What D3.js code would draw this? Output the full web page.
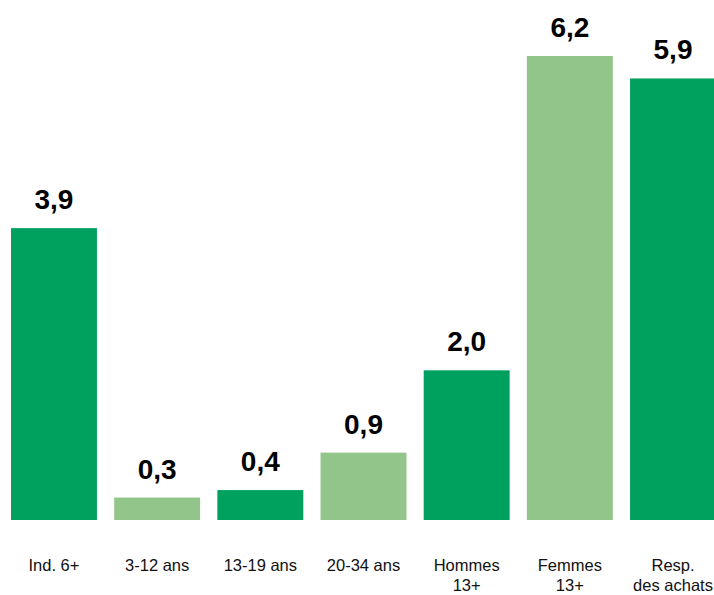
<!DOCTYPE html>
<html>
<head>
<meta charset="utf-8">
<script src="https://cdn.jsdelivr.net/npm/d3@7"></script>
<style>
  html, body { margin: 0; padding: 0; background: #fff; overflow: hidden; }
  svg { display: block; }
</style>
</head>
<body>
<svg id="chart" width="714" height="595"></svg>
<script>
// values
var categories = ["Ind. 6+", "3-12 ans", "13-19 ans", "20-34 ans", "Hommes\n13+", "Femmes\n13+", "Resp.\ndes achats"];
var values = [3.9, 0.3, 0.4, 0.9, 2.0, 6.2, 5.9];
var shades = ["dark", "light", "dark", "light", "dark", "light", "dark"];

var colors = {dark: "#00A15F", light: "#92C589"};

var svg = d3.select("#chart");

var x = d3.scaleBand()
  .domain(categories)
  .range([11, 716])
  .paddingInner(0.167)
  .paddingOuter(0);

var y = d3.scaleLinear()
  .domain([0, 6.2])
  .range([520, 56]);

var bars = svg.append("g").selectAll("g")
  .data(categories)
  .enter()
  .append("g");

bars.append("rect")
  .attr("x", function(d){ return x(d); })
  .attr("y", function(d, i){ return y(values[i]); })
  .attr("width", x.bandwidth())
  .attr("height", function(d, i){ return y(0) - y(values[i]); })
  .attr("fill", function(d, i){ return colors[shades[i]]; });

bars.append("text")
  .attr("x", function(d){ return x(d) + x.bandwidth()/2; })
  .attr("y", function(d, i){ return y(values[i]) - 19; })
  .attr("text-anchor", "middle")
  .style("font-family", "Liberation Sans, Arial, sans-serif")
  .style("font-weight", "bold")
  .style("font-size", "28px")
  .attr("fill", "#000")
  .text(function(d, i){ return values[i].toFixed(1).replace(".", ","); });

var labels = bars.append("text")
  .attr("text-anchor", "middle")
  .style("font-family", "Liberation Sans, Arial, sans-serif")
  .style("font-size", "16.5px")
  .attr("fill", "#111");

labels.selectAll("tspan")
  .data(function(d){ return d.split("\n").map(function(s){ return {t: s, c: d}; }); })
  .enter()
  .append("tspan")
  .attr("x", function(d){ return x(d.c) + x.bandwidth()/2; })
  .attr("y", function(d, i){ return 571 + i*20; })
  .text(function(d){ return d.t; });
</script>
</body>
</html>
